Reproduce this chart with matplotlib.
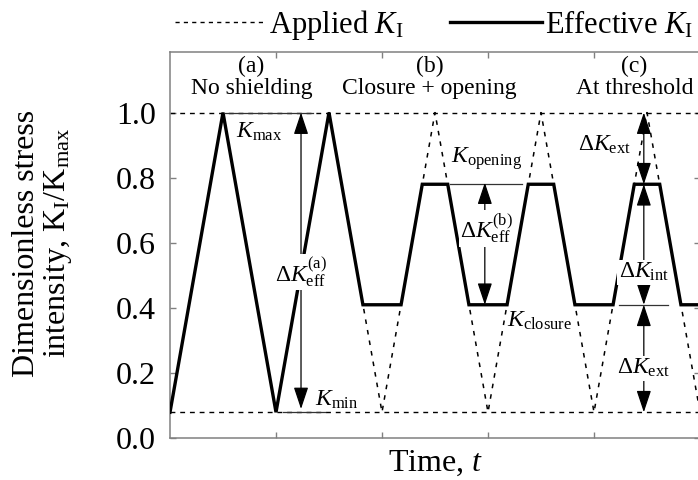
import matplotlib
matplotlib.use("Agg")
import matplotlib.pyplot as plt
from matplotlib.lines import Line2D

plt.rcParams['font.family'] = ['Liberation Serif', 'DejaVu Serif']
plt.rcParams['mathtext.fontset'] = 'custom'
plt.rcParams['mathtext.rm'] = 'Liberation Serif'
plt.rcParams['mathtext.it'] = 'Liberation Serif:italic'
plt.rcParams['mathtext.bf'] = 'Liberation Serif:bold'

# ---------------- data ----------------
# Applied K (triangle wave vertices)
applied_t = [0, 0.5, 1.0, 1.5, 2.0, 2.5, 3.0, 3.5, 4.0, 4.5, 5.0]
applied_k = [0.08, 1.0, 0.08, 1.0, 0.08, 1.0, 0.08, 1.0, 0.08, 1.0, 0.08]
# Effective K (vertices)
effective_t = [0, 0.5, 1.0, 1.5, 1.82, 2.18, 2.38, 2.62, 2.82, 3.18,
               3.38, 3.62, 3.82, 4.18, 4.38, 4.62, 4.82, 5.0]
effective_k = [0.08, 1.0, 0.08, 1.0, 0.41, 0.41, 0.78, 0.78, 0.41, 0.41,
               0.78, 0.78, 0.41, 0.41, 0.78, 0.78, 0.41, 0.41]
k_max, k_min = 1.0, 0.08
k_open, k_close = 0.78, 0.41
yticks = [0.0, 0.2, 0.4, 0.6, 0.8, 1.0]
ytick_labels = ["0.0", "0.2", "0.4", "0.6", "0.8", "1.0"]
xticks = [1, 2, 3, 4]
region_labels = ["(a)\nNo shielding", "(b)\nClosure + opening", "(c)\nAt threshold"]
region_x = [0.77, 2.45, 4.38]

# ---------------- figure ----------------
W, H = 698, 480
fig = plt.figure(figsize=(W / 100, H / 100), dpi=100)
ax = fig.add_axes([170 / W, 1 - 438.3 / H, 530 / W, (438.3 - 51.7) / H])
ax.set_xlim(0, 5)
ax.set_ylim(0, 1.187)

spine_c = '#808080'
for s in ax.spines.values():
    s.set_color(spine_c)
    s.set_linewidth(1.1)
ax.set_xticks(xticks)
ax.set_xticklabels([])
ax.set_yticks(yticks)
ax.set_yticklabels(ytick_labels)
ax.tick_params(direction='in', top=True, right=True, length=4.5, width=1.0,
               color=spine_c, labelsize=23, pad=10)

# reference dashed lines
ax.plot([0, 5], [k_max, k_max], color='black', lw=1.0, ls=(0, (3.5, 3.5)), zorder=2)
ax.plot([0, 5], [k_min, k_min], color='black', lw=1.0, ls=(0, (3.5, 3.5)), zorder=2)
# applied K
ax.plot(applied_t, applied_k, color='black', lw=1.1, ls=(0, (3, 4)), zorder=2)
# effective K
ax.plot(effective_t, effective_k, color='black', lw=2.4, zorder=3,
        solid_joinstyle='miter')

# thin reference lines
thin = dict(color='#333333', lw=0.9, zorder=3)
ax.plot([0.52, 1.35], [k_max, k_max], **thin)
ax.plot([1.07, 1.46], [k_min, k_min], **thin)
ax.plot([2.64, 3.32], [k_open, k_open], **thin)
ax.plot([4.24, 4.70], [k_close, k_close], **thin)


def arrow(x, y_from, y_to, style='-|>'):
    ax.annotate('', xy=(x, y_to), xytext=(x, y_from),
                arrowprops=dict(arrowstyle=f'{style},head_length=1.35,head_width=0.45',
                                mutation_scale=10, lw=0.9, color='black',
                                shrinkA=0, shrinkB=0), zorder=4)


arrow(1.236, k_min + 0.01, k_max, '<|-|>')
arrow(2.97, k_close, k_open + 0.005, '<|-|>')
xa = 4.47
arrow(xa, k_open, k_max, '<|-|>')
arrow(xa, k_close, k_open, '<|-|>')
arrow(xa, k_min, k_close, '<|-|>')

lab = dict(fontsize=17, zorder=6)
wbox = dict(facecolor='white', edgecolor='none', pad=1.0)
ax.text(0.62, 0.94, r'$K_\mathrm{max}$', ha='left', va='center', **lab)
ax.text(1.37, 0.118, r'$K_\mathrm{min}$', ha='left', va='center', **lab)
ax.text(1.236, 0.51, r'$\Delta K_\mathrm{eff}^\mathrm{(a)}$', ha='center', va='center',
        bbox=wbox, **lab)
ax.text(2.99, 0.858, r'$K_\mathrm{opening}$', ha='center', va='center', **lab)
ax.text(2.99, 0.645, r'$\Delta K_\mathrm{eff}^\mathrm{(b)}$', ha='center', va='center',
        bbox=wbox, **lab)
ax.text(3.18, 0.362, r'$K_\mathrm{closure}$', ha='left', va='center', **lab)
ax.text(4.35, 0.9, r'$\Delta K_\mathrm{ext}$', ha='right', va='center', **lab)
ax.text(xa, 0.51, r'$\Delta K_\mathrm{int}$', ha='center', va='center', bbox=wbox, **lab)
ax.text(xa, 0.215, r'$\Delta K_\mathrm{ext}$', ha='center', va='center', bbox=wbox, **lab)

for x, s in zip(region_x, region_labels):
    ax.text(x, 1.175, s, ha='center', va='top', fontsize=17, linespacing=1.05)

# axis labels
fig.text(436 / W, 1 - 463 / H, r'Time, $t$', ha='center', va='center', fontsize=23)
fig.text(43 / W, 1 - 243 / H,
         'Dimensionless stress\nintensity, K$_\\mathrm{I}$/K$_\\mathrm{max}$',
         rotation=90, ha='center', va='center', fontsize=23, linespacing=1.05,
         multialignment='center')

# legend (drawn manually above axes)
ly = 1 - 22 / H
fig.add_artist(Line2D([175 / W, 266 / W], [ly, ly], transform=fig.transFigure,
                      color='black', lw=1.0, ls=(0, (3, 3))))
fig.text(269 / W, 1 - 33 / H, r'Applied $K_\mathrm{I}$', ha='left', va='baseline', fontsize=22)
fig.add_artist(Line2D([450 / W, 542 / W], [ly, ly], transform=fig.transFigure,
                      color='black', lw=2.4))
fig.text(545 / W, 1 - 33 / H, r'Effective $K_\mathrm{I}$', ha='left', va='baseline', fontsize=22)

fig.savefig('out.png', dpi=100)
